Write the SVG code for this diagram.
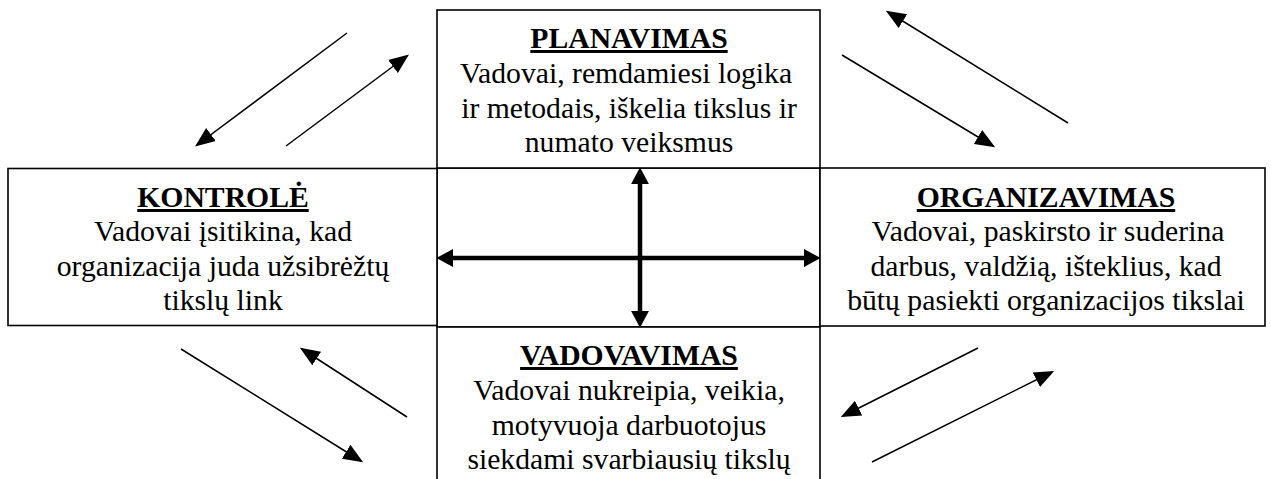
<svg xmlns="http://www.w3.org/2000/svg" width="1271" height="479" viewBox="0 0 1271 479">
<style>
.box{fill:#fff;stroke:#000;stroke-width:1.6}
text{font-family:'Liberation Serif',Tinos,'Times New Roman',Times,serif;font-size:29.7px;fill:#000;text-anchor:middle}
.title{font-weight:bold;text-decoration:underline;text-decoration-thickness:2.6px;text-underline-offset:2px}
.thin{stroke:#000;stroke-width:1.5;fill:none}
.thick{stroke:#000;stroke-width:4.5;fill:none}
</style>
<defs>
<marker id="ah" markerUnits="userSpaceOnUse" markerWidth="20" markerHeight="20" viewBox="0 -8 16 16" refX="14" refY="0" orient="auto-start-reverse">
<path d="M0,-6.5 L16,0 L0,6.5 z" fill="#000"/>
</marker>
<marker id="bh" markerUnits="userSpaceOnUse" markerWidth="20" markerHeight="20" viewBox="0 -9 16 18" refX="0" refY="0" orient="auto-start-reverse">
<path d="M0,-8 L15,0 L0,8 z" fill="#000"/>
</marker>
</defs>
<g id="center-cell">
<rect class="box" x="437" y="168" width="383" height="159"/>
</g>
<g id="planavimas">
<rect class="box" x="437" y="10" width="383" height="158"/>
<text class="title" x="629" y="48">PLANAVIMAS</text>
<text x="626" y="83">Vadovai, remdamiesi logika</text>
<text x="629" y="117.5">ir metodais, iškelia tikslus ir</text>
<text x="629" y="152">numato veiksmus</text>
</g>
<g id="kontrole">
<rect class="box" x="8" y="168.5" width="429" height="157"/>
<text class="title" x="223" y="207">KONTROLĖ</text>
<text x="223" y="241">Vadovai įsitikina, kad</text>
<text x="223" y="275.5">organizacija juda užsibrėžtų</text>
<text x="223" y="310">tikslų link</text>
</g>
<g id="organizavimas">
<rect class="box" x="820" y="168" width="445" height="158"/>
<text class="title" x="1046" y="207">ORGANIZAVIMAS</text>
<text x="1048" y="241">Vadovai, paskirsto ir suderina</text>
<text x="1046" y="275.5">darbus, valdžią, išteklius, kad</text>
<text x="1046" y="310">būtų pasiekti organizacijos tikslai</text>
</g>
<g id="vadovavimas">
<rect class="box" x="437" y="327" width="383" height="170"/>
<text class="title" x="629" y="365">VADOVAVIMAS</text>
<text x="629" y="400">Vadovai nukreipia, veikia,</text>
<text x="629" y="434.5">motyvuoja darbuotojus</text>
<text x="629" y="468.5">siekdami svarbiausių tikslų</text>
</g>
<g id="connectors">
<line class="thick" x1="640" y1="184" x2="640" y2="311" marker-start="url(#bh)" marker-end="url(#bh)"/>
<line class="thick" x1="453" y1="258" x2="804" y2="258" marker-start="url(#bh)" marker-end="url(#bh)"/>
<line class="thin" x1="347" y1="33" x2="197" y2="145" marker-end="url(#ah)"/>
<line class="thin" x1="286" y1="146" x2="407" y2="56" marker-end="url(#ah)"/>
<line class="thin" x1="1068" y1="123" x2="888" y2="12" marker-end="url(#ah)"/>
<line class="thin" x1="842" y1="55" x2="993" y2="146" marker-end="url(#ah)"/>
<line class="thin" x1="181" y1="349" x2="361" y2="461" marker-end="url(#ah)"/>
<line class="thin" x1="407" y1="417" x2="302" y2="349" marker-end="url(#ah)"/>
<line class="thin" x1="978" y1="348" x2="843" y2="416" marker-end="url(#ah)"/>
<line class="thin" x1="872" y1="462" x2="1052" y2="372" marker-end="url(#ah)"/>
</g>
</svg>
